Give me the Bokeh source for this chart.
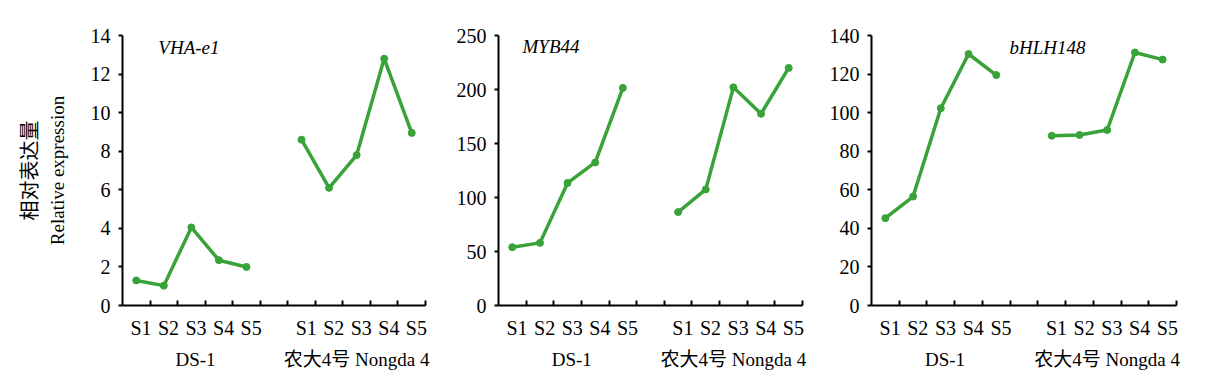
from bokeh.plotting import figure
from bokeh.layouts import row
from bokeh.models import FixedTicker, LinearAxis, Label, Range1d
from bokeh.embed import file_html
from bokeh.resources import INLINE

stages = ["S1", "S2", "S3", "S4", "S5"]
groups = ["DS-1", "农大4号 Nongda 4"]
genes = ["VHA-e1", "MYB44", "bHLH148"]

vha_ds1 = [1.3, 1.03, 4.05, 2.35, 2.0]
vha_nd4 = [8.6, 6.1, 7.8, 12.8, 8.95]
myb_ds1 = [54, 58, 113.5, 132.5, 201.5]
myb_nd4 = [86.5, 107.5, 202, 177.5, 220]
bhlh_ds1 = [45.3, 56.5, 102.3, 130.4, 119.5]
bhlh_nd4 = [88, 88.4, 91, 131.2, 127.5]

y_max = [14, 250, 140]
y_step = [2, 50, 20]

GREEN = "#38a338"
SERIF = "Liberation Serif"
MIXED = "Liberation Serif, Noto Sans CJK SC"
LABEL_SHIFT = 0.17  # stage labels sit slightly right of the slot centres

ds1_x = [i + 0.5 for i in range(len(stages))]
nd4_x = [i + 6.5 for i in range(len(stages))]


def make_panel(gene, ds1, nd4, ymax, ystep, width, left, right, title_xy, with_label):
    p = figure(width=width, height=375, output_backend="svg", toolbar_location=None,
               x_range=Range1d(0, 11), y_range=Range1d(0, ymax),
               min_border_left=left, min_border_right=right,
               min_border_top=35, min_border_bottom=70)
    p.outline_line_color = None
    p.xgrid.visible = False
    p.ygrid.visible = False
    p.xaxis.visible = False

    # y axis
    ya = p.yaxis[0]
    ya.ticker = FixedTicker(ticks=list(range(0, ymax + 1, ystep)))
    ya.axis_line_width = 2
    ya.axis_line_color = "black"
    ya.major_tick_out = 4
    ya.major_tick_in = 0
    ya.major_tick_line_width = 2
    ya.minor_tick_line_color = None
    ya.major_label_text_font = SERIF
    ya.major_label_text_font_size = "20px"
    ya.major_label_text_color = "black"
    ya.major_label_standoff = 8

    # x axis: boundary ticks (minor) and stage labels (major, no tick marks)
    label_pos = [c + LABEL_SHIFT for c in ds1_x + nd4_x]
    overrides = {c: s for c, s in zip(label_pos, stages + stages)}
    xa = LinearAxis(ticker=FixedTicker(ticks=label_pos, minor_ticks=list(range(1, 12))),
                    major_label_overrides=overrides)
    xa.axis_line_width = 2
    xa.axis_line_color = "black"
    xa.major_tick_line_color = None
    xa.minor_tick_in = 5
    xa.minor_tick_out = 0
    xa.minor_tick_line_width = 2
    xa.minor_tick_line_color = "black"
    xa.major_label_text_font = SERIF
    xa.major_label_text_font_size = "20px"
    xa.major_label_text_color = "black"
    xa.major_label_standoff = 5
    p.add_layout(xa, "below")

    ga = LinearAxis(ticker=FixedTicker(ticks=[2.65, 8.5]),
                    major_label_overrides={2.65: groups[0], 8.5: groups[1]})
    ga.axis_line_color = None
    ga.major_tick_line_color = None
    ga.minor_tick_line_color = None
    ga.major_label_text_font = MIXED
    ga.major_label_text_font_size = "19px"
    ga.major_label_text_color = "black"
    ga.major_label_standoff = 1
    p.add_layout(ga, "below")

    if with_label:
        ya.axis_label = "Relative expression"
        ya.axis_label_text_font = SERIF
        ya.axis_label_text_font_style = "normal"
        ya.axis_label_text_font_size = "19px"
        ya.axis_label_text_color = "black"
        ya.axis_label_standoff = 20
        ca = LinearAxis(ticker=FixedTicker(ticks=[]), axis_label="相对表达量")
        ca.axis_line_color = None
        ca.major_tick_line_color = None
        ca.minor_tick_line_color = None
        ca.major_tick_out = 0
        ca.major_label_standoff = 0
        ca.major_label_text_font_size = "0px"
        ca.axis_label_text_font = "Noto Sans CJK SC"
        ca.axis_label_text_font_style = "normal"
        ca.axis_label_text_font_size = "20px"
        ca.axis_label_text_color = "black"
        ca.axis_label_standoff = 1
        p.add_layout(ca, "left")

    for xs, ys in ((ds1_x, ds1), (nd4_x, nd4)):
        p.line(xs, ys, line_color=GREEN, line_width=3.5)
        p.scatter(xs, ys, marker="circle", size=7, fill_color=GREEN, line_color=GREEN)

    p.add_layout(Label(x=title_xy[0], y=title_xy[1], text=gene, text_font=SERIF,
                       text_font_style="italic", text_font_size="19px",
                       text_baseline="middle", text_color="black"))
    return p


p1 = make_panel(genes[0], vha_ds1, vha_nd4, y_max[0], y_step[0], 440, 122, 15, (1.3, 13.4), True)
p2 = make_panel(genes[1], myb_ds1, myb_nd4, y_max[1], y_step[1], 385, 58, 23, (0.87, 240), False)
p3 = make_panel(genes[2], bhlh_ds1, bhlh_nd4, y_max[2], y_step[2], 375, 46, 24, (4.98, 133.7), False)

layout = row(p1, p2, p3)
open("out.html", "w").write(file_html(layout, INLINE))
